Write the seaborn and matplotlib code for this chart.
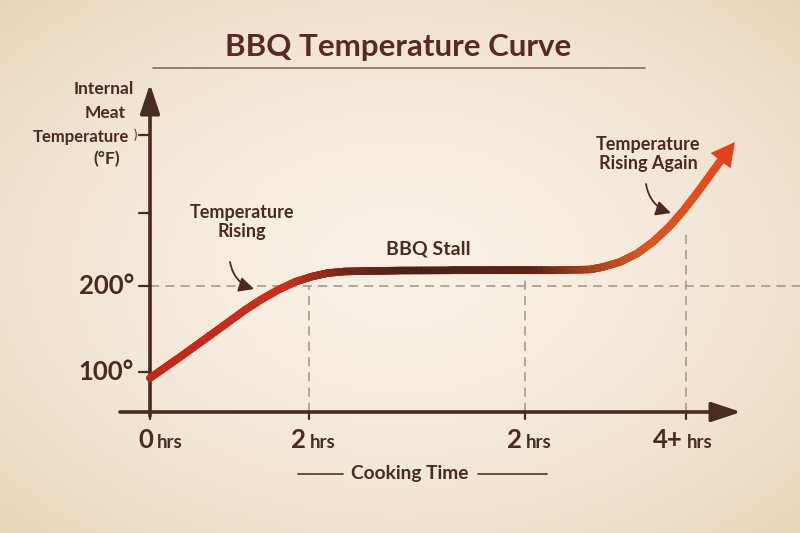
import numpy as np
import pandas as pd
import matplotlib
matplotlib.use("Agg")
import matplotlib.pyplot as plt
import seaborn as sns
from matplotlib.collections import LineCollection
from matplotlib.colors import LinearSegmentedColormap

# ---------------- data ----------------
time_pos = [0.00, 0.38, 0.785, 1.203, 1.418, 1.62, 1.835, 2.051, 2.253, 2.468, 2.785,
            3.165, 3.80, 4.43, 5.06, 5.57, 5.734, 5.949, 6.165, 6.367, 6.582, 6.747,
            6.924, 7.127, 7.278, 7.405]
temp_f = [93.0, 117.4, 144.2, 172.1, 184.9, 195.3, 204.7, 211.0, 215.1, 216.9, 217.4,
          218.0, 218.2, 218.2, 218.2, 219.2, 222.1, 227.9, 237.8, 251.2, 269.8, 287.2,
          308.1, 333.7, 352.3, 367.4]

x_tick_pos = [0.0, 2.01, 4.75, 6.78]
x_tick_num = ["0", "2", "2", "4+"]
x_tick_unit = ["hrs", "hrs", "hrs", "hrs"]
y_tick_pos = [100, 200]
y_tick_labels = ["100°", "200°"]
y_extra_ticks = [285, 376]

title = "BBQ Temperature Curve"
x_label = "Cooking Time"
y_label_lines = ["Internal", "Meat", "Temperature", "(°F)"]
ann_rising = "Temperature\nRising"
ann_stall = "BBQ Stall"
ann_again = "Temperature\nRising Again"

# ---------------- style ----------------
sns.set_theme(style="white")
plt.rcParams['font.family'] = ['Lato', 'DejaVu Sans']
TXT = "#4a2a21"
AXC = "#4a2b22"
GUIDE = "#a39384"

fig = plt.figure(figsize=(8, 5.33), dpi=100)
ax = fig.add_axes([0, 0, 1, 1])

PX, PY = 79.0, 0.86
def dx(px):
    return (px - 150) / PX
def dy(py):
    return 200 + (286 - py) / PY

xl = (dx(0), dx(800))
yl = (dy(533), dy(0))

# parchment background with vignette
h, w = 267, 400
yy, xx = np.mgrid[0:h, 0:w]
r = np.sqrt(((xx - w / 2) / (w / 2)) ** 2 + ((yy - h / 2) / (h / 2)) ** 2) / np.sqrt(2)
t = np.clip(r, 0, 1) ** 1.8
c0 = np.array([248, 240, 229]) / 255
c1 = np.array([233, 213, 186]) / 255
img = c0[None, None, :] * (1 - t[..., None]) + c1[None, None, :] * t[..., None]
ax.imshow(img, extent=[xl[0], xl[1], yl[0], yl[1]], aspect='auto', zorder=0, origin='upper')
ax.set_xlim(*xl)
ax.set_ylim(*yl)
ax.axis('off')

# guides
ax.plot([0, xl[1]], [200, 200], ls=(0, (6, 4)), color=GUIDE, lw=1.1, zorder=1)
for xp, top in zip(x_tick_pos[1:], [286, 279, 232]):
    ax.plot([xp, xp], [dy(412), dy(top)], ls=(0, (6, 4)), color=GUIDE, lw=1.1, zorder=1)

# axes with arrows
ax.annotate('', xy=(dx(741), dy(412)), xytext=(dx(120), dy(412)),
            arrowprops=dict(arrowstyle='-|>,head_length=0.9,head_width=0.3', lw=2.6,
                            color=AXC, shrinkA=0, shrinkB=0, mutation_scale=20), zorder=2)
ax.annotate('', xy=(dx(150), dy(84)), xytext=(dx(150), dy(416)),
            arrowprops=dict(arrowstyle='-|>,head_length=0.9,head_width=0.3', lw=2.6,
                            color=AXC, shrinkA=0, shrinkB=0, mutation_scale=20), zorder=2)

# y ticks
for yv in y_tick_pos + y_extra_ticks:
    ax.plot([dx(139), dx(150)], [yv, yv], color=AXC, lw=1.6, zorder=2)
for yv, lab in zip(y_tick_pos, y_tick_labels):
    ax.text(dx(134), yv, lab, ha='right', va='center', fontsize=18.5, fontweight='bold', color=TXT)
ax.text(dx(135), y_extra_ticks[1], ")", ha='center', va='center', fontsize=9, color=TXT)

# x ticks
for xp, num, unit in zip(x_tick_pos, x_tick_num, x_tick_unit):
    ax.plot([xp, xp], [dy(412), dy(419)], color=AXC, lw=1.6, zorder=2)
    off = 3 if num == "0" else -3
    ax.text(xp + off / PX, dy(448), num, ha='right', va='baseline', fontsize=18.5,
            fontweight='bold', color=TXT)
    ax.text(xp + (off + 4) / PX, dy(448), unit, ha='left', va='baseline', fontsize=13.5,
            fontweight='bold', color=TXT)

# curve
df = pd.DataFrame({"time": time_pos, "temp": temp_f})
sns.lineplot(data=df.iloc[:-1], x="time", y="temp", ax=ax, color="#b8321c", lw=5.4,
             sort=False, estimator=None, zorder=3, legend=False)
ax.set_xlim(*xl)
ax.set_ylim(*yl)
ax.axis('off')

xs = np.asarray(time_pos[:-1], dtype=float)
ys = np.asarray(temp_f[:-1], dtype=float)
n_sub = 12
fx, fy = [], []
for i in range(len(xs) - 1):
    for k in range(n_sub):
        f = k / n_sub
        fx.append(xs[i] + f * (xs[i + 1] - xs[i]))
        fy.append(ys[i] + f * (ys[i + 1] - ys[i]))
fx.append(xs[-1]); fy.append(ys[-1])
pts = np.array([fx, fy]).T.reshape(-1, 1, 2)
segs = np.concatenate([pts[:-1], pts[1:]], axis=1)
cmap = LinearSegmentedColormap.from_list("bbq", [
    (0.0, "#c42519"), (0.24, "#c9301b"), (0.33, "#7c2519"), (0.45, "#4c2017"),
    (0.66, "#5a2418"), (0.75, "#a83e1a"), (0.85, "#dc561c"), (1.0, "#e6481c")])
mid = (np.array(fx[:-1]) + np.array(fx[1:])) / 2
lc = LineCollection(segs, colors=cmap(mid / time_pos[-1]), linewidths=5.4,
                    capstyle='round', zorder=4)
ax.add_collection(lc)
ax.annotate('', xy=(time_pos[-1], temp_f[-1]), xytext=(time_pos[-2], temp_f[-2]),
            arrowprops=dict(arrowstyle='-|>,head_length=0.85,head_width=0.45', lw=0,
                            color="#e2401c", shrinkA=0, shrinkB=0, mutation_scale=20),
            zorder=5)

# annotations
ax.text(dx(242), dy(222), ann_rising, ha='center', va='center', fontsize=13,
        fontweight='bold', color=TXT, linespacing=1.12)
ax.annotate('', xy=(dx(254), dy(289)), xytext=(dx(230), dy(262)),
            arrowprops=dict(arrowstyle='-|>,head_length=0.5,head_width=0.25', lw=1.3,
                            color=TXT, connectionstyle='arc3,rad=0.3', shrinkA=0, shrinkB=0,
                            mutation_scale=18), zorder=5)
ax.text(dx(428), dy(249), ann_stall, ha='center', va='center', fontsize=14,
        fontweight='bold', color=TXT)
ax.text(dx(648), dy(154), ann_again, ha='center', va='center', fontsize=13,
        fontweight='bold', color=TXT, linespacing=1.12)
ax.annotate('', xy=(dx(671), dy(213)), xytext=(dx(646), dy(184)),
            arrowprops=dict(arrowstyle='-|>,head_length=0.5,head_width=0.25', lw=1.3,
                            color=TXT, connectionstyle='arc3,rad=0.3', shrinkA=0, shrinkB=0,
                            mutation_scale=18), zorder=5)

# y axis label
ax.text(dx(104), dy(89), y_label_lines[0], ha='center', va='center', fontsize=12.5,
        fontweight='bold', color=TXT)
ax.text(dx(105), dy(113), y_label_lines[1], ha='center', va='center', fontsize=12.5,
        fontweight='bold', color=TXT)
ax.text(dx(129), dy(137), y_label_lines[2], ha='right', va='center', fontsize=12,
        fontweight='bold', color=TXT)
ax.text(dx(107), dy(159), y_label_lines[3], ha='center', va='center', fontsize=12.5,
        fontweight='bold', color=TXT)

# x axis label with rules
ax.text(dx(410), dy(474), x_label, ha='center', va='center', fontsize=13.8,
        fontweight='bold', color=TXT)
ax.plot([dx(298), dx(343)], [dy(474), dy(474)], color="#5d4034", lw=1.3, zorder=2)
ax.plot([dx(478), dx(547)], [dy(474), dy(474)], color="#5d4034", lw=1.3, zorder=2)

# title
ax.text(dx(398), dy(56), title, ha='center', va='baseline', fontsize=22.5,
        fontweight='bold', color="#5a2a22")
ax.plot([dx(153), dx(645)], [dy(68), dy(68)], color="#8a6d5c", lw=1.2, zorder=2)

fig.savefig("out.png", dpi=100)
